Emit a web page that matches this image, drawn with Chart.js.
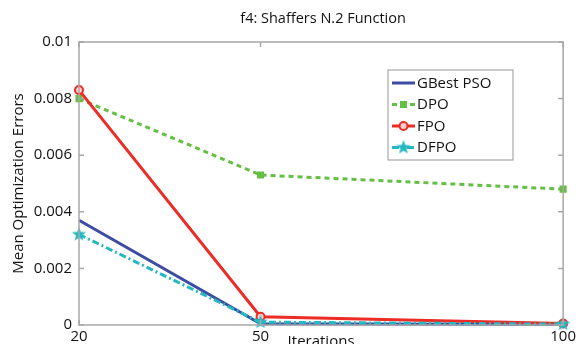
<!DOCTYPE html>
<html>
<head>
<meta charset="utf-8">
<script src="https://cdn.jsdelivr.net/npm/chart.js@4/dist/chart.umd.min.js"></script>
<style>
html,body{margin:0;padding:0;background:#fff;overflow:hidden;}
#wrap{width:579px;height:344px;position:relative;}
</style>
</head>
<body>
<div id="wrap"><canvas id="c" width="579" height="344"></canvas></div>
<script>
// ---- data ----
const iterations = [20, 50, 100];
const seriesNames = ["GBest PSO", "DPO", "FPO", "DFPO"];
const gbestPSO = [0.0037, 0.00004, 0.00002];
const dpo      = [0.0080, 0.0053, 0.0048];
const fpo      = [0.0083, 0.00029, 0.00005];
const dfpo     = [0.0032, 0.0001, 0.00003];
const yTickValues = [0, 0.002, 0.004, 0.006, 0.008, 0.01];
const yTickLabels = ["0", "0.002", "0.004", "0.006", "0.008", "0.01"];
const xTickValues = [20, 50, 100];
const xTickLabels = ["20", "50", "100"];
const titleText = "f4: Shaffers N.2 Function";
const yAxisTitle = "Mean Optimization Errors";
const xAxisTitle = "Iterations";

const FONT = "'Open Sans', 'Noto Sans', sans-serif";
const COLORS = ["#3b4ca2", "#66bf45", "#ee2b24", "#24b9c2"];

function makeStar(color, size) {
  const c = document.createElement('canvas');
  c.width = size; c.height = size;
  const g = c.getContext('2d');
  const cx = size / 2, cy = size / 2, R = size / 2 - 0.5, r = R * 0.42;
  g.beginPath();
  for (let i = 0; i < 10; i++) {
    const ang = -Math.PI / 2 + i * Math.PI / 5;
    const rad = i % 2 === 0 ? R : r;
    const px = cx + rad * Math.cos(ang), py = cy + rad * Math.sin(ang);
    if (i === 0) g.moveTo(px, py); else g.lineTo(px, py);
  }
  g.closePath();
  g.fillStyle = color; g.fill();
  return c;
}
const starImg = makeStar(COLORS[3], 16);

function toXY(vals) { return vals.map((v, i) => ({x: iterations[i], y: v})); }

const styles = [
  {borderDash: [], pointStyle: false, pointRadius: 0, bg: COLORS[0]},
  {borderDash: [5, 4], pointStyle: 'rect', pointRadius: 5, bg: COLORS[1]},
  {borderDash: [], pointStyle: 'circle', pointRadius: 4, bg: '#ffd0d0'},
  {borderDash: [7, 3, 2, 3], pointStyle: starImg, pointRadius: 8, bg: COLORS[3]},
];
const allSeries = [gbestPSO, dpo, fpo, dfpo];

const datasets = allSeries.map((vals, i) => ({
  label: seriesNames[i],
  data: toXY(vals),
  borderColor: COLORS[i],
  backgroundColor: styles[i].bg,
  borderWidth: 3,
  borderDash: styles[i].borderDash,
  pointStyle: styles[i].pointStyle,
  pointRadius: styles[i].pointRadius,
  pointBorderWidth: i === 2 ? 2 : 0,
  pointBorderColor: COLORS[i],
  pointBackgroundColor: styles[i].bg,
  tension: 0,
  order: 3 - i,
  clip: 10
}));

const framePlugin = {
  id: 'frame',
  afterDatasetsDraw(chart) {
    const {ctx, chartArea: a, scales} = chart;
    ctx.save();
    ctx.strokeStyle = '#a8a8a8';
    ctx.lineWidth = 1.5;
    ctx.strokeRect(a.left, a.top, a.right - a.left, a.bottom - a.top);
    // inward ticks
    const tl = 5;
    ctx.beginPath();
    yTickValues.forEach(v => {
      const y = scales.y.getPixelForValue(v);
      ctx.moveTo(a.left, y); ctx.lineTo(a.left + tl, y);
      ctx.moveTo(a.right, y); ctx.lineTo(a.right - tl, y);
    });
    xTickValues.forEach(v => {
      const x = scales.x.getPixelForValue(v);
      ctx.moveTo(x, a.bottom); ctx.lineTo(x, a.bottom - tl);
      ctx.moveTo(x, a.top); ctx.lineTo(x, a.top + tl);
    });
    ctx.stroke();

    // title
    ctx.fillStyle = '#111';
    ctx.font = '14.5px ' + FONT;
    ctx.textAlign = 'center';
    ctx.textBaseline = 'middle';
    ctx.fillText(titleText, (a.left + a.right) / 2 + 2, 19);

    // x axis title
    ctx.font = '15px ' + FONT;
    ctx.textBaseline = 'top';
    ctx.fillText(xAxisTitle, (a.left + a.right) / 2, 334);

    // legend
    const lx = 388, ly = 70, lw = 125, lh = 90;
    ctx.fillStyle = '#fff';
    ctx.fillRect(lx, ly, lw, lh);
    ctx.strokeStyle = '#a8a8a8';
    ctx.lineWidth = 1.2;
    ctx.strokeRect(lx, ly, lw, lh);
    const rows = [83, 104.5, 126, 147.5];
    chart.data.datasets.forEach((ds, i) => {
      const y = rows[i];
      ctx.save();
      ctx.strokeStyle = ds.borderColor;
      ctx.lineWidth = 3;
      ctx.setLineDash(ds.borderDash || []);
      ctx.beginPath();
      ctx.moveTo(lx + 4, y); ctx.lineTo(lx + 27, y);
      ctx.stroke();
      ctx.restore();
      const mx = lx + 15.5;
      if (ds.pointStyle === starImg) {
        ctx.drawImage(starImg, mx - 8, y - 8);
      } else if (ds.pointStyle) {
        ctx.save();
        ctx.fillStyle = ds.pointBackgroundColor;
        ctx.strokeStyle = ds.pointBorderColor;
        ctx.lineWidth = ds.pointBorderWidth;
        ctx.beginPath();
        if (ds.pointStyle === 'circle') {
          ctx.arc(mx, y, ds.pointRadius, 0, Math.PI * 2);
          ctx.fill(); ctx.stroke();
        } else {
          const s = ds.pointRadius * Math.SQRT1_2;
          ctx.fillStyle = ds.borderColor;
          ctx.fillRect(mx - s, y - s, 2 * s, 2 * s);
        }
        ctx.restore();
      }
      ctx.fillStyle = '#111';
      ctx.font = '15px ' + FONT;
      ctx.textAlign = 'left';
      ctx.textBaseline = 'middle';
      ctx.fillText(ds.label, lx + 29, y + 0.5);
    });
    ctx.restore();
  }
};

new Chart(document.getElementById('c'), {
  type: 'line',
  data: {datasets},
  plugins: [framePlugin],
  options: {
    responsive: false,
    animation: false,
    devicePixelRatio: 1,
    layout: {padding: {left: 0, right: 12, top: 42, bottom: 0}},
    plugins: {
      legend: {display: false},
      tooltip: {enabled: false},
      title: {display: false}
    },
    scales: {
      x: {
        type: 'linear', min: 20, max: 100,
        afterBuildTicks(scale) { scale.ticks = xTickValues.map(v => ({value: v})); },
        afterFit(scale) { scale.height = 19; },
        grid: {display: false, drawTicks: false},
        border: {display: false},
        ticks: {
          padding: 3, color: '#111', maxRotation: 0, autoSkip: false,
          font: {family: FONT, size: 15},
          callback: (v) => xTickLabels[xTickValues.indexOf(v)]
        }
      },
      y: {
        type: 'linear', min: 0, max: 0.01,
        afterBuildTicks(scale) { scale.ticks = yTickValues.map(v => ({value: v})); },
        afterFit(scale) { scale.width = 79; },
        grid: {display: false, drawTicks: false},
        border: {display: false},
        title: {
          display: true, text: yAxisTitle, color: '#111',
          font: {family: FONT, size: 15, weight: 'normal'},
          padding: {top: 10, bottom: 0}
        },
        ticks: {
          padding: 7, color: '#111', autoSkip: false,
          font: {family: FONT, size: 15},
          callback: (v) => yTickLabels[yTickValues.indexOf(v)]
        }
      }
    }
  }
});
</script>
</body>
</html>
